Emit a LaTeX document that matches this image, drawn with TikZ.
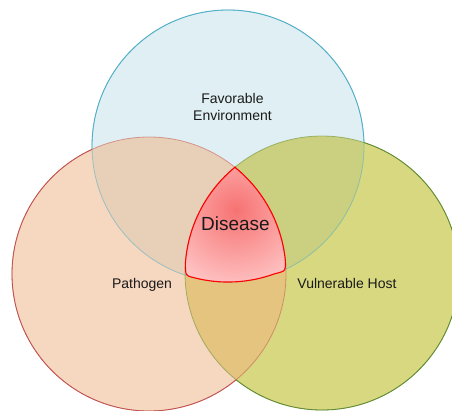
\documentclass[tikz,border=0pt]{standalone}
\usepackage{fontspec}
\setmainfont{Liberation Sans}
\definecolor{topfill}{HTML}{E0EFF3}
\definecolor{leftfill}{HTML}{F6D7C0}
\definecolor{rightfill}{HTML}{D8D880}
\definecolor{tlfill}{HTML}{E8D0B8}
\definecolor{trfill}{HTML}{CBD080}
\definecolor{lrfill}{HTML}{E5C480}
\definecolor{topline}{HTML}{4BACC6}
\definecolor{leftline}{HTML}{C0504D}
\definecolor{rightline}{HTML}{5F8A30}
\definecolor{dcore}{HTML}{F77272}
\definecolor{dedge}{HTML}{FFCACA}
\definecolor{txt}{HTML}{1A1A1A}
\begin{document}
\begin{tikzpicture}[x=1pt,y=1pt,
  lbl/.style={text=txt,inner sep=0pt,font=\fontsize{14}{17}\selectfont},
  ring/.style={line width=0.8pt}]
\useasboundingbox (0,0) rectangle (452,410);
\coordinate (T) at (228,264);
\coordinate (L) at (149,136);
\coordinate (R) at (322,137);
% plain fills
\fill[topfill] (T) circle[radius=136pt];
\fill[leftfill] (L) circle[radius=137pt];
\fill[rightfill] (R) circle[radius=137pt];
% overlaps
\begin{scope}
  \clip (T) circle[radius=136pt];
  \fill[tlfill] (L) circle[radius=137pt];
  \fill[trfill] (R) circle[radius=137pt];
\end{scope}
\begin{scope}
  \clip (L) circle[radius=137pt];
  \fill[lrfill] (R) circle[radius=137pt];
\end{scope}
% faint outlines (inside other circles)
\draw[ring,topline,opacity=0.5] (T) circle[radius=136pt];
\draw[ring,leftline,opacity=0.5] (L) circle[radius=137pt];
\draw[ring,rightline,opacity=0.5] (R) circle[radius=137pt];
% full outlines outside the other circles
\begin{scope}[even odd rule]
  \clip (-20,-20) rectangle (480,430) (L) circle[radius=137pt];
  \clip (-20,-20) rectangle (480,430) (R) circle[radius=137pt];
  \draw[ring,topline] (T) circle[radius=136pt];
\end{scope}
\begin{scope}[even odd rule]
  \clip (-20,-20) rectangle (480,430) (T) circle[radius=136pt];
  \clip (-20,-20) rectangle (480,430) (R) circle[radius=137pt];
  \draw[ring,leftline] (L) circle[radius=137pt];
\end{scope}
\begin{scope}[even odd rule]
  \clip (-20,-20) rectangle (480,430) (T) circle[radius=136pt];
  \clip (-20,-20) rectangle (480,430) (L) circle[radius=137pt];
  \draw[ring,rightline] (R) circle[radius=137pt];
\end{scope}
% disease region
\draw[red,line width=1.1pt,line join=round,
  path picture={\shade[inner color=dcore,outer color=dedge] (236,200) circle[radius=85pt];}]
  (235.2,243.0) arc[start angle=129.35,end angle=176,radius=137pt]
  .. controls (185.5,134.5) .. (192.8,132.6)
  arc[start angle=255,end angle=290,radius=136pt]
  .. controls (286,139) .. (285.25,150.3)
  arc[start angle=6,end angle=50.9,radius=137pt] -- cycle;
% labels
\node[lbl,align=center] (env) at (232.5,303.5) {Favorable\\Environment};
\node[lbl,anchor=base] (path) at (142,122) {Pathogen};
\node[lbl,anchor=base] (host) at (347,122) {Vulnerable Host};
\node[lbl,anchor=base,font=\fontsize{19}{22}\selectfont] (dis) at (235.5,179) {Disease};
\end{tikzpicture}
\end{document}
